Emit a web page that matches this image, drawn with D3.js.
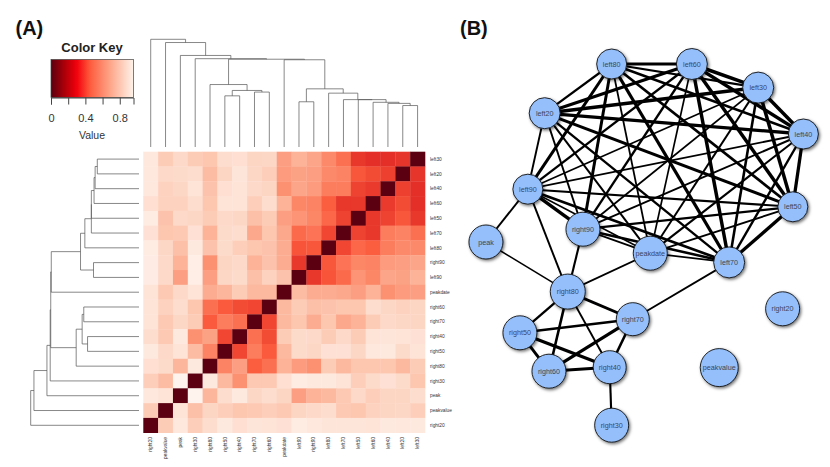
<!DOCTYPE html>
<html><head><meta charset="utf-8">
<script src="https://cdn.jsdelivr.net/npm/d3@7"></script>
<style>html,body{margin:0;padding:0;background:#fff}svg{display:block;font-family:"Liberation Sans",Arial,sans-serif}</style>
</head><body><svg id="c" width="830" height="467"></svg>
<script>
const columns=["right20","peakvalue","peak","right30","right80","right50","right40","right70","right60","peakdate","left90","right90","left80","left70","left50","left60","left40","left20","left30"];
const rows=["left30","left20","left40","left60","left50","left70","left80","right90","left90","peakdate","right60","right70","right40","right50","right80","right30","peak","peakvalue","right20"];
const distances=[
[.92,.80,.85,.80,.78,.87,.88,.83,.84,.66,.72,.68,.60,.52,.33,.30,.30,.32,0],
[.92,.85,.86,.87,.75,.83,.91,.84,.81,.65,.67,.66,.60,.58,.44,.40,.36,0,.32],
[.92,.82,.84,.90,.77,.88,.90,.85,.83,.62,.68,.65,.56,.56,.37,.34,0,.36,.30],
[.88,.82,.82,.87,.78,.90,.90,.81,.87,.72,.59,.58,.46,.33,.33,0,.34,.40,.30],
[.94,.77,.85,.84,.80,.85,.84,.76,.80,.66,.63,.59,.49,.37,0,.33,.37,.44,.33],
[.89,.78,.79,.89,.72,.86,.87,.69,.78,.69,.50,.53,.38,0,.37,.33,.56,.58,.52],
[.94,.84,.76,.93,.77,.86,.81,.78,.77,.70,.43,.44,0,.38,.49,.46,.56,.60,.60],
[.95,.85,.72,.96,.62,.83,.85,.72,.77,.70,.33,0,.44,.53,.59,.58,.65,.66,.68],
[.95,.85,.66,.96,.66,.84,.86,.76,.82,.77,0,.33,.43,.50,.63,.59,.68,.67,.72],
[.90,.79,.85,.90,.70,.73,.80,.74,.74,0,.75,.70,.70,.69,.66,.72,.62,.65,.66],
[.90,.82,.87,.78,.52,.45,.40,.38,0,.74,.80,.76,.77,.78,.78,.87,.84,.82,.83],
[.90,.79,.84,.80,.45,.56,.52,0,.38,.74,.78,.70,.78,.69,.72,.80,.85,.84,.83],
[.87,.79,.93,.62,.67,.38,0,.52,.40,.80,.86,.85,.80,.85,.80,.90,.91,.90,.89],
[.93,.85,.90,.75,.58,0,.38,.56,.45,.74,.86,.84,.89,.89,.84,.92,.93,.86,.90],
[.88,.86,.73,.93,0,.58,.66,.46,.52,.72,.65,.62,.80,.74,.78,.78,.78,.74,.80],
[.81,.75,.99,0,.93,.74,.62,.79,.79,.88,.94,.93,.93,.90,.81,.86,.89,.86,.78],
[.92,.90,0,.99,.73,.87,.93,.84,.87,.83,.66,.72,.74,.79,.85,.81,.83,.83,.87],
[.80,0,.90,.76,.83,.81,.78,.79,.81,.79,.83,.85,.87,.79,.78,.82,.83,.84,.81],
[0,.80,.92,.81,.87,.93,.88,.91,.90,.89,.94,.92,.91,.91,.91,.90,.93,.92,.93]];
const merges=[["m1","left20","left30",.385],["m2","left40","m1",.405],["m3","left60","m2",.415],["m4","left50","m3",.44],["m5","left70","m4",.44],["m6","left80","m5",.50],["m7","left90","right90",.42],["m8","m7","m6",.54],["m9","peakdate","m8",.81],["m10","right50","right40",.475],["m11","right70","right60",.51],["m12","m10","m11",.525],["m13","right80","m12",.58],["m14","m13","m9",.815],["m15","right30","m14",.82],["m16","peak","m15",.85],["m17","peakvalue","m16",.97],["m18","right20","m17",1]];
const keyTicks=[0,.2,.4,.6,.8];
const keyTickLabels=["0","","0.4","","0.8"];
const nodeNames=["left80","left60","left30","left40","left50","left70","peakdate","right90","left90","left20","peak","right80","right70","right50","right60","right40","right30","peakvalue","right20"];
const nodeLayoutX=[39.9,64.2,84.3,98,94.8,75.5,51.6,31.2,14.5,19.6,1.8,26.6,46.3,12.1,20.9,39.3,39.9,72.5,91.7];
const nodeLayoutY=[3.5,3.5,9.4,21,39.2,53.1,50.8,44.8,34.8,15.8,48,60.4,67.3,70.7,80.3,79.3,93.8,79.4,64.7];
const nodeSizes=[15,15.5,15.5,15,15,15.5,17,17,15,15.5,17,17.5,16.5,17,17,16.5,17,19,17];
const denseCluster=["left80","left60","left30","left40","left50","left70","peakdate","right90","left90","left20"];
const otherEdges=[["left90","peak"],["left90","right80"],["right90","right80"],["peak","right80"],["peakdate","right80"],["left70","right70"],["right80","right70"],["right80","right50"],["right80","right60"],["right80","right40"],["right50","right70"],["right50","right60"],["right50","right40"],["right60","right70"],["right60","right40"],["right70","right40"],["right40","right30"]];

const svg=d3.select("#c");
const defs=svg.append("defs");
defs.append("filter").attr("id","sh").attr("x","-30%").attr("y","-30%").attr("width","170%").attr("height","170%")
  .append("feDropShadow").attr("dx",1.3).attr("dy",1.5).attr("stdDeviation",1.4).attr("flood-color","#000").attr("flood-opacity",.55);

// panel letters
svg.selectAll("text.panel").data([["(A)",15.5],["(B)",460]]).join("text").attr("class","panel")
  .attr("x",d=>d[1]).attr("y",35).attr("font-size",20).attr("font-weight","bold").attr("fill","#111").text(d=>d[0]);

// heatmap
const x=d3.scaleBand().domain(columns).range([143.3,425]);
const y=d3.scaleBand().domain(rows).range([151.7,432.7]);
const color=d3.scaleLinear().domain([0,.3,.45,.6,.73,.83,.93,1]).range(["#5a0010","#e32f27","#fb5a3c","#fc8a6a","#fcb69b","#fdd5c3","#fee9df","#fff5f0"]);
const cells=rows.flatMap((r,i)=>columns.map((c,j)=>({r,c,v:distances[i][j]})));
svg.append("g").selectAll("rect").data(cells).join("rect")
  .attr("x",d=>x(d.c)).attr("y",d=>y(d.r)).attr("width",x.bandwidth()+.3).attr("height",y.bandwidth()+.3)
  .attr("fill",d=>color(d.v));
svg.append("g").selectAll("text").data(rows).join("text")
  .attr("x",430).attr("y",d=>y(d)+y.bandwidth()/2).attr("dy","0.35em").attr("font-size",4.8).attr("fill","#333").text(d=>d);
svg.append("g").selectAll("text").data(columns).join("text")
  .attr("transform",d=>`translate(${x(d)+x.bandwidth()/2},437) rotate(-90)`).attr("dy","0.35em").attr("text-anchor","end")
  .attr("font-size",4.8).attr("fill","#333").text(d=>d);

// dendrograms
const h=d3.scaleLinear().domain([0,1]);
const mergeMap=new Map(merges.map(m=>[m[0],m]));
function place(name,scale){
  const m=mergeMap.get(name);
  if(!m) return {p:scale(name)+scale.bandwidth()/2,h:0};
  const a=place(m[1],scale),b=place(m[2],scale);
  return {p:(a.p+b.p)/2,h:m[3],a,b};
}
function drawTree(root,hs,vertical,path){
  const n=place(root.name,root.scale);
  (function walk(t){
    if(!t.a) return;
    const pts=[[t.a.p,hs(t.a.h)],[t.a.p,hs(t.h)],[t.b.p,hs(t.h)],[t.b.p,hs(t.b.h)]];
    const q=vertical?pts:pts.map(d=>[d[1],d[0]]);
    path.moveTo(q[0][0],q[0][1]);q.slice(1).forEach(d=>path.lineTo(d[0],d[1]));
    walk(t.a);walk(t.b);
  })(n);
}
const pTop=d3.path();drawTree({name:"m18",scale:x},h.copy().range([147,39.3]),true,pTop);
const pLeft=d3.path();drawTree({name:"m18",scale:y},h.copy().range([139,30.7]),false,pLeft);
svg.append("path").attr("d",pTop.toString()).attr("fill","none").attr("stroke","#555").attr("stroke-width",.7);
svg.append("path").attr("d",pLeft.toString()).attr("fill","none").attr("stroke","#555").attr("stroke-width",.7);

// colour key
const keyScale=d3.scaleLinear().domain([0,.96]).range([51,133.5]);
const keyColor=d3.scaleLinear().domain([0,.15,.3,.45,.7,.96]).range(["#5a0010","#a80008","#f2000c","#ff5a3c","#ffa98c","#fff3ea"]);
const grad=defs.append("linearGradient").attr("id","kg");
d3.range(0,1.001,.04).forEach(t=>grad.append("stop").attr("offset",t).attr("stop-color",keyColor(t*.96)));
svg.append("rect").attr("x",keyScale(0)).attr("y",59.5).attr("width",keyScale(.96)-keyScale(0)).attr("height",38)
  .attr("fill","url(#kg)").attr("stroke","#444").attr("stroke-width",.7);
svg.append("text").attr("x",92).attr("y",51.5).attr("text-anchor","middle").attr("font-size",13).attr("font-weight","bold").attr("fill","#222").text("Color Key");
const keyAxis=d3.axisBottom(keyScale).tickValues(keyTicks).tickFormat((d,i)=>keyTickLabels[i]).tickSize(7).tickPadding(10);
const ka=svg.append("g").attr("transform","translate(0,97.5)").call(keyAxis);
ka.select(".domain").attr("stroke","#444");ka.selectAll("line").attr("stroke","#444");
ka.selectAll("text").attr("font-size",11).attr("fill","#333").attr("font-family","inherit");
svg.append("text").attr("x",92).attr("y",139).attr("text-anchor","middle").attr("font-size",10.5).attr("fill","#333").text("Value");

// network
const nx=d3.scaleLinear().domain([0,100]).range([480,810]);
const ny=d3.scaleLinear().domain([0,100]).range([50,450]);
const nodes=nodeNames.map((n,i)=>({n,x:nx(nodeLayoutX[i]),y:ny(nodeLayoutY[i]),r:nodeSizes[i]}));
const byName=new Map(nodes.map(d=>[d.n,d]));
const dist=(a,b)=>distances[rows.indexOf(a)][columns.indexOf(b)];
const edges=denseCluster.flatMap((a,i)=>denseCluster.slice(i+1).map(b=>[a,b])).concat(otherEdges);
const width=d3.scaleLinear().domain([.8,.3]).range([1.3,3.6]).clamp(true);
svg.append("g").selectAll("line").data(edges).join("line")
  .attr("x1",d=>byName.get(d[0]).x).attr("y1",d=>byName.get(d[0]).y)
  .attr("x2",d=>byName.get(d[1]).x).attr("y2",d=>byName.get(d[1]).y)
  .attr("stroke","#000").attr("stroke-width",d=>width(dist(d[0],d[1])));
svg.append("g").selectAll("circle").data(nodes).join("circle")
  .attr("cx",d=>d.x).attr("cy",d=>d.y).attr("r",d=>d.r)
  .attr("fill","#94bffb").attr("stroke","#111").attr("stroke-width",.9).attr("filter","url(#sh)");
svg.append("g").selectAll("text").data(nodes).join("text")
  .attr("x",d=>d.x).attr("y",d=>d.y).attr("dy","0.35em").attr("text-anchor","middle")
  .attr("font-size",7.2).attr("fill","#3c4658").text(d=>d.n);
</script></body></html>
